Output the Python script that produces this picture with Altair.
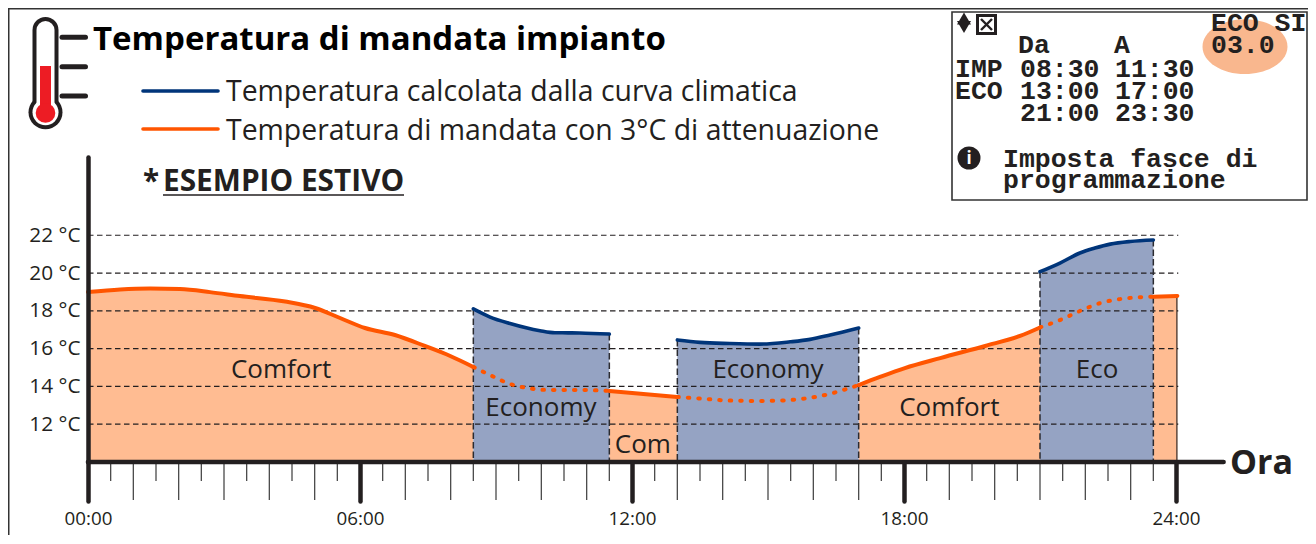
import altair as alt
import pandas as pd

# ---------- data (hours, deg C) ----------
comfort_segments = [
    ([0, 0.71, 1.37, 2.03, 2.69, 3.35, 4.35, 5.01, 5.56, 6.11, 6.77, 7.43, 7.99, 8.5],
     [18.99, 19.13, 19.18, 19.15, 18.99, 18.78, 18.49, 18.15, 17.62, 17.09, 16.72, 16.14, 15.61, 15.03]),
    ([11.5, 12.25, 13], [13.76, 13.6, 13.44]),
    ([17, 17.47, 18.02, 18.8, 19.79, 20.56, 21], [14.07, 14.5, 14.97, 15.5, 16.14, 16.67, 17.12]),
    ([23.5, 24.03], [18.75, 18.79]),
]
eco_orange_segments = [
    ([8.5, 8.87, 9.31, 9.75, 10.19, 10.85, 11.5], [15.03, 14.6, 14.13, 13.89, 13.81, 13.81, 13.76]),
    ([13, 13.5, 14.16, 14.82, 15.49, 16.15, 17], [13.44, 13.36, 13.25, 13.23, 13.28, 13.49, 14.07]),
    ([21, 21.44, 21.88, 22.33, 22.77, 23.5], [17.12, 17.51, 17.99, 18.41, 18.62, 18.75]),
]
eco_blue_segments = [
    ([8.5, 8.87, 9.31, 9.97, 10.3, 10.85, 11.5], [18.1, 17.67, 17.33, 16.95, 16.84, 16.83, 16.77]),
    ([13, 13.5, 14.16, 14.82, 15.49, 15.93, 16.37, 17], [16.46, 16.33, 16.27, 16.24, 16.36, 16.49, 16.72, 17.09]),
    ([21, 21.44, 21.88, 22.21, 22.55, 22.99, 23.5], [20.07, 20.53, 21.06, 21.32, 21.53, 21.67, 21.75]),
]
band_names = ["Comfort", "Economy", "Com", "Economy", "Comfort", "Eco"]
band_hours = [4.26, 9.99, 12.24, 15.0, 19.0, 22.26]
band_temps = [14.87, 12.86, 10.9, 14.87, 12.86, 14.87]
temp_ticks = [12, 14, 16, 18, 20, 22]
hour_ticks = [0, 6, 12, 18, 24]
half_hours = [h + 0.5 for h in range(24)]
full_hours = [h for h in range(1, 24) if h % 6]
BASE = 10

INK = "#231F20"
ORANGE = "#FF5500"
NAVY = "#00357A"
FILL_O = "#FFBC92"
FILL_B = "#95A3C3"
SANS = "Open Sans"
MONO = "Liberation Mono"

def frame(segments):
    rows = []
    for i, (hs, ts) in enumerate(segments):
        rows += [{"hour": h, "temp": t, "seg": i, "base": BASE} for h, t in zip(hs, ts)]
    return pd.DataFrame(rows)

xs = alt.Scale(domain=[0, 24], nice=False, zero=False)
ys = alt.Scale(domain=[10, 26.14], nice=False, zero=False)
x_axis = alt.Axis(
    values=hour_ticks, tickSize=39, tickWidth=4.5, tickColor=INK, tickCap="round", domain=False, grid=False,
    labelExpr="(datum.value < 10 ? '0' : '') + datum.value + ':00'", labelFont=SANS, labelFontSize=18.8,
    labelColor=INK, labelPadding=8, labelOverlap=False, labelFlush=False, zindex=1)
y_axis = alt.Axis(
    values=temp_ticks, ticks=False, grid=False, domainWidth=4.5, domainColor=INK, domainCap="round",
    labelExpr="datum.value + ' °C'", labelFont=SANS, labelFontSize=20.8, labelColor=INK,
    labelPadding=8, labelOverlap=False, zindex=1)
X = alt.X("hour:Q", scale=xs, axis=x_axis, title=None)
Y = alt.Y("temp:Q", scale=ys, axis=y_axis, title=None)

def px(v): return v - 88
def py(v): return v - 157

def text(s, x, y, size, font=SANS, weight="normal", color=INK, align="left", baseline="alphabetic"):
    return alt.Chart().mark_text(font=font, fontSize=size, fontWeight=weight, color=color,
                                 align=align, baseline=baseline).encode(
        x=alt.value(px(x)), y=alt.value(py(y)), text=alt.value(s))

def rule(x1, y1, x2, y2, width, color=INK, cap="round"):
    return alt.Chart().mark_rule(strokeWidth=width, color=color, strokeCap=cap).encode(
        x=alt.value(px(x1)), x2=alt.value(px(x2)), y=alt.value(py(y1)), y2=alt.value(py(y2)))

def dot(x, y, r, color, shape="circle"):
    return alt.Chart().mark_point(filled=True, opacity=1, shape=shape, size=(2 * r) ** 2, color=color,
                                  strokeWidth=0).encode(x=alt.value(px(x)), y=alt.value(py(y)))

def box(x1, y1, x2, y2, fill, stroke=None, width=0):
    kw = {"stroke": stroke, "strokeWidth": width} if stroke else {"strokeWidth": 0}
    return alt.Chart().mark_rect(fill=fill, **kw).encode(
        x=alt.value(px(x1)), x2=alt.value(px(x2)), y=alt.value(py(y1)), y2=alt.value(py(y2)))

comfort = frame(comfort_segments)
eco_o = frame(eco_orange_segments)
eco_b = frame(eco_blue_segments)

area_o = alt.Chart(comfort).mark_area(color=FILL_O, interpolate="monotone", opacity=1).encode(
    x=X, y=Y, y2="base:Q", detail="seg:N")
area_b = alt.Chart(eco_b).mark_area(color=FILL_B, interpolate="monotone", opacity=1).encode(
    x=X, y=Y, y2="base:Q", detail="seg:N")

grid = alt.Chart(pd.DataFrame({"temp": temp_ticks, "hour": [0] * 6, "end": [24.05] * 6})).mark_rule(
    color=INK, strokeWidth=1.2, strokeDash=[5.5, 3.5]).encode(x=X, x2="end:Q", y=Y)

edges_b = eco_b.groupby("seg").agg(first=("hour", "first"), last=("hour", "last"),
                                   t0=("temp", "first"), t1=("temp", "last")).reset_index()
edge_df = pd.DataFrame({
    "hour": list(edges_b["first"]) + list(edges_b["last"]),
    "temp": list(edges_b["t0"]) + list(edges_b["t1"]),
    "base": BASE})
edges = alt.Chart(edge_df).mark_rule(color="#2B2B30", strokeWidth=1.5, strokeDash=[6.5, 3]).encode(
    x=X, y=Y, y2="base:Q")

right_edge = alt.Chart(pd.DataFrame({"hour": [24.02], "temp": [18.79], "base": [BASE]})).mark_rule(
    color=INK, strokeWidth=1.1).encode(x=X, y=Y, y2="base:Q")

line_o = alt.Chart(comfort).mark_line(color=ORANGE, strokeWidth=4, interpolate="monotone", strokeCap="round").encode(
    x=X, y=Y, detail="seg:N")
dots_o = alt.Chart(eco_o).mark_line(color=ORANGE, strokeWidth=4, interpolate="monotone", strokeCap="round",
                                    strokeDash=[1.5, 9]).encode(x=X, y=Y, detail="seg:N")
line_b = alt.Chart(eco_b).mark_line(color=NAVY, strokeWidth=3.6, interpolate="monotone", strokeCap="round").encode(
    x=X, y=Y, detail="seg:N")

base_line = alt.Chart(pd.DataFrame({"hour": [0], "end": [25.05], "temp": [BASE]})).mark_rule(
    color=INK, strokeWidth=4.6, strokeCap="round").encode(x=X, x2="end:Q", y=Y)
tick_half = alt.Chart(pd.DataFrame({"hour": half_hours})).mark_rule(color="#4A4A4A", strokeWidth=1.3).encode(
    x=X, y=alt.value(305), y2=alt.value(305 + 19))
tick_full = alt.Chart(pd.DataFrame({"hour": full_hours})).mark_rule(color="#4A4A4A", strokeWidth=1.3).encode(
    x=X, y=alt.value(305), y2=alt.value(305 + 38))

band_labels = alt.Chart(pd.DataFrame({"hour": band_hours, "temp": band_temps, "name": band_names})).mark_text(
    font=SANS, fontSize=26, color=INK, baseline="middle").encode(x=X, y=Y, text="name:N")

thermo = [
    rule(45.5, 30, 45.5, 112, 26), dot(45.5, 112.3, 17, INK),
    rule(45.5, 30, 45.5, 112, 18, "#FFFFFF"), dot(45.5, 112.3, 13, "#FFFFFF"),
    box(40, 66, 51, 112, "#ED1C24"), dot(45.5, 113, 9.8, "#ED1C24"),
    rule(62, 37.3, 85.5, 37.3, 5), rule(62, 66.7, 85.5, 66.7, 5), rule(62, 96, 85.5, 96, 5),
]
heading = [
    text("Temperatura di mandata impianto", 93, 50, 33, weight="bold", color="#000000"),
    rule(143, 91, 218, 91, 3.6, NAVY), rule(143, 129, 218, 129, 3.6, ORANGE),
    text("Temperatura calcolata dalla curva climatica", 226, 101, 28.4),
    text("Temperatura di mandata con 3°C di attenuazione", 226, 139.5, 28.4),
    text("*", 143, 191, 29.5, weight="bold"),
    text("ESEMPIO ESTIVO", 163, 191, 29.8, weight="bold"),
    rule(163, 195, 404, 195, 1.6, cap="butt"),
    text("Ora", 1230, 474, 34, weight="bold"),
]
outer = [
    rule(8.5, 8.5, 8.5, 536, 2, "#333333", "butt"),
    rule(8, 8.5, 1308, 8.5, 2, "#333333", "butt"),
]
ELLIPSE = ("M-1,0C-1,-0.355,-0.552,-0.644,0,-0.644C0.552,-0.644,1,-0.355,1,0"
           "C1,0.355,0.552,0.644,0,0.644C-0.552,0.644,-1,0.355,-1,0Z")
M = dict(font=MONO, weight="bold", size=26.5)
panel = [
    box(952, 12, 1307, 200, "#FFFFFF", "#333333", 1.6),
    alt.Chart().mark_point(filled=True, opacity=1, shape=ELLIPSE, size=(2 * 42.5) ** 2, color="#F9B78E",
                           strokeWidth=0).encode(x=alt.value(px(1245)), y=alt.value(py(46.7))),
    dot(964, 18.5, 7, INK, "triangle-up"), dot(964, 27, 7, INK, "triangle-down"),
    box(976, 14, 997, 35, INK), box(979, 17, 994, 32, "#FFFFFF"),
    rule(981, 19, 992, 30, 2.4, INK, "butt"), rule(992, 19, 981, 30, 2.4, INK, "butt"),
    text("ECO SI", 1211, 31, **M), text("Da", 1018, 53, **M), text("A", 1114, 53, **M), text("03.0", 1211, 53, **M),
    text("IMP", 955, 77, **M), text("08:30", 1020, 77, **M), text("11:30", 1115, 77, **M),
    text("ECO", 955, 99, **M), text("13:00", 1020, 99, **M), text("17:00", 1115, 99, **M),
    text("21:00", 1020, 121, **M), text("23:30", 1115, 121, **M),
    dot(969, 158, 11.5, INK),
    text("i", 969, 164, 17, font=SANS, weight="bold", color="#FFFFFF", align="center"),
    text("Imposta fasce di", 1003, 167, **M), text("programmazione", 1003, 188, **M),
]

chart = alt.layer(
    area_o, area_b, grid, edges, right_edge, line_o, dots_o, line_b,
    tick_half, tick_full, base_line, band_labels,
    *outer, *thermo, *heading, *panel,
).properties(
    width=1088, height=305,
    padding={"left": 80, "top": 149, "right": 132, "bottom": 73},
    autosize=alt.AutoSizeParams(type="none"),
    background="#FFFFFF",
).configure_view(stroke=None)

chart.save("out.html", embed_options={"renderer": "svg", "actions": False})
